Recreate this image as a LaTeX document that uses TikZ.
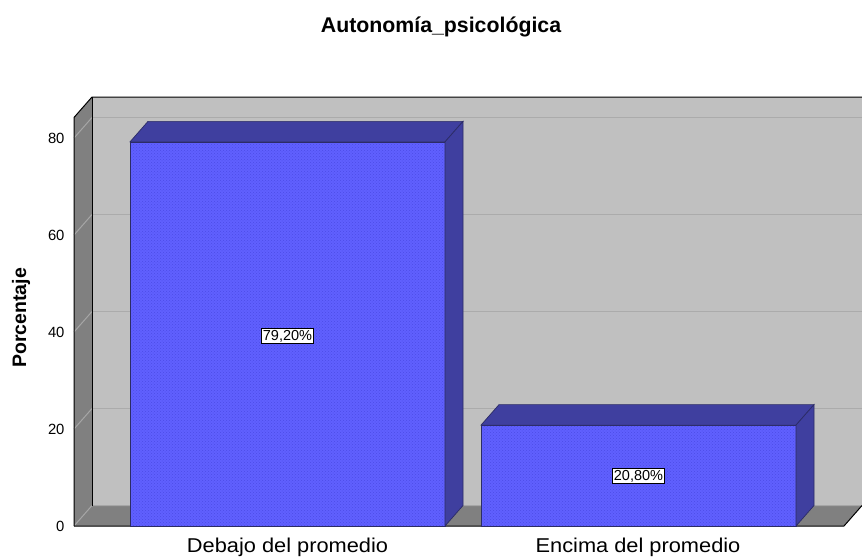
\documentclass[tikz,border=0pt]{standalone}
\usepackage{fontspec}
\setmainfont{Liberation Sans}
\usetikzlibrary{patterns}
\definecolor{wall}{HTML}{C0C0C0}
\definecolor{sidewall}{HTML}{808080}
\definecolor{gridc}{HTML}{ABABAB}
\definecolor{sidegrid}{HTML}{A6A6A6}
\definecolor{barfront}{HTML}{6060FF}
\definecolor{bartop}{HTML}{3F3F9F}
\definecolor{baredge}{HTML}{2C2C66}
\definecolor{patc}{HTML}{4C4CE6}
\tikzset{
  axisline/.style={black, line width=1pt},
  barface/.style={draw=baredge, line width=0.7pt},
  pctlabel/.style={draw=black, fill=white, line width=0.6pt, inner sep=1.6pt, font=\fontsize{14.5}{15}\selectfont},
  ticklabel/.style={anchor=east, font=\fontsize{14.8}{15}\selectfont},
  catlabel/.style={font=\fontsize{20}{20}\selectfont, xscale=1.09},
}
\newcommand{\mybar}[3]{%
  % #1 = left x, #2 = right x, #3 = value
  \pgfmathsetmacro\yt{526-4.85*#3}
  \fill[barfront] (#1,\yt) rectangle (#2,526);
  \fill[pattern=crosshatch dots, pattern color=patc] (#1,\yt) rectangle (#2,526);
  \draw[barface] (#1,\yt) rectangle (#2,526);
  \filldraw[barface, fill=bartop] (#1,\yt) -- ++(18,-20.5) -- ({#2+18},{\yt-20.5}) -- (#2,\yt) -- cycle;
  \filldraw[barface, fill=bartop] (#2,\yt) -- ++(18,-20.5) -- ({#2+18},505.5) -- (#2,526) -- cycle;
}
\begin{document}
\begin{tikzpicture}[x=1pt,y=-1pt]
\useasboundingbox (0,0) rectangle (862,557);
% back wall
\fill[wall] (92,97) rectangle (862,505.5);
\foreach \v in {20,40,60,80} {
  \pgfmathsetmacro\fy{526-4.85*\v}
  \draw[gridc, line width=1.2pt] (92,{\fy-20.5}) -- (862,{\fy-20.5});
}
% left wall
\fill[sidewall] (74,117.5) -- (92,97) -- (92,505.5) -- (74,526) -- cycle;
\foreach \v in {20,40,60,80} {
  \pgfmathsetmacro\fy{526-4.85*\v}
  \draw[sidegrid, line width=1pt] (74,\fy) -- (92,{\fy-20.5});
}
% floor
\fill[sidewall] (74,526) -- (92,505.5) -- (862,505.5) -- (844,526) -- cycle;
\draw[sidegrid, line width=1pt] (74,526) -- (92,505.5) -- (862,505.5);
% outlines
\draw[axisline] (74,526) -- (74,117.5) -- (92,97) -- (862,97);
\draw[axisline] (92,97) -- (92,505.5);
\draw[axisline] (74,526) -- (844,526) -- (862,505.5);
% bars
\mybar{130}{445}{79.2}
\mybar{481}{796}{20.8}
% value labels
\node[pctlabel] (l1) at (287.5,336) {79,20\%};
\node[pctlabel] (l2) at (638.5,476) {20,80\%};
% ticks
\foreach \v in {0,20,40,60,80} {
  \pgfmathsetmacro\fy{526-4.85*\v}
  \node[ticklabel] (t\v) at (68,\fy) {\v};
}
% category labels
\node[catlabel] (c1) at (287.5,547) {Debajo del promedio};
\node[catlabel] (c2) at (638,547) {Encima del promedio};
% axis title
\node[rotate=90, font=\bfseries\fontsize{19.5}{20}\selectfont] (yt) at (21,318) {Porcentaje};
% title
\node[font=\bfseries\fontsize{21.3}{22}\selectfont] (title) at (441,27) {Autonomía\_psicológica};
\end{tikzpicture}
\end{document}
